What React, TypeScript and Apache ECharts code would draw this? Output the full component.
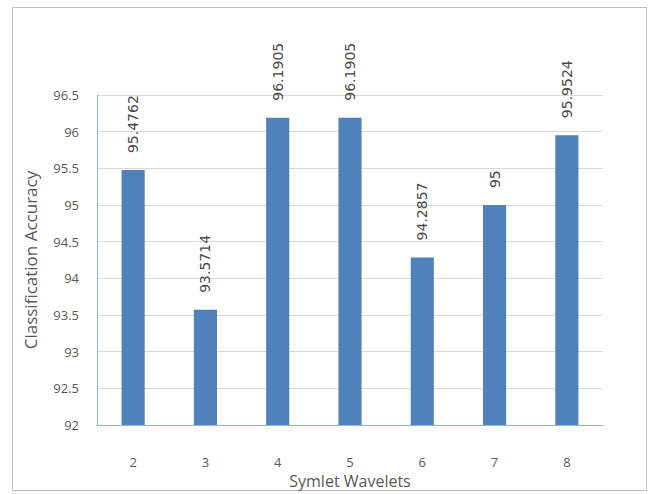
import React, { useEffect, useRef } from "react";
import * as echarts from "echarts";

const categories = ["2", "3", "4", "5", "6", "7", "8"];
const accuracy = [95.4762, 93.5714, 96.1905, 96.1905, 94.2857, 95, 95.9524];
const yMin = 92;
const yMax = 96.5;
const yStep = 0.5;

export default function App() {
  const ref = useRef<HTMLDivElement>(null);

  useEffect(() => {
    if (!ref.current) return;
    const chart = echarts.init(ref.current, undefined, { renderer: "svg" });
    const axisFont = "'Open Sans', sans-serif";
    chart.setOption({
      animation: false,
      backgroundColor: "#ffffff",
      graphic: [
        {
          type: "rect",
          shape: { x: 12.5, y: 7.5, width: 634, height: 483 },
          style: { fill: "none", stroke: "#BFBFBF", lineWidth: 1 },
          silent: true,
        },
      ],
      grid: { left: 97, right: 48, top: 95, bottom: 68 },
      xAxis: {
        type: "category",
        data: categories,
        name: "Symlet Wavelets",
        nameLocation: "middle",
        nameGap: 40,
        nameTextStyle: { fontFamily: axisFont, fontSize: 16, color: "#595959" },
        axisLine: { lineStyle: { color: "#8EB4E3", width: 1 } },
        axisTick: { show: false },
        axisLabel: { fontFamily: axisFont, fontSize: 13, color: "#595959", margin: 30 },
      },
      yAxis: {
        type: "value",
        min: yMin,
        max: yMax,
        interval: yStep,
        name: "Classification Accuracy",
        nameLocation: "middle",
        nameGap: 58,
        nameTextStyle: { fontFamily: axisFont, fontSize: 17, color: "#595959" },
        axisLine: { show: true, lineStyle: { color: "#8EB4E3", width: 1 } },
        axisTick: { show: false },
        splitLine: { lineStyle: { color: "#D9D9D9", width: 1 } },
        axisLabel: {
          fontFamily: axisFont,
          fontSize: 13,
          color: "#595959",
          margin: 18,
          formatter: (v: number) => String(v),
        },
      },
      series: [
        {
          type: "bar",
          data: accuracy,
          barWidth: "32%",
          itemStyle: { color: "#4F81BD" },
          label: {
            show: true,
            position: "top",
            rotate: 90,
            align: "left",
            verticalAlign: "middle",
            distance: 17,
            fontFamily: "'DejaVu Sans', sans-serif",
            fontSize: 14,
            color: "#4A4A4A",
            formatter: (p: any) => String(p.value),
          },
        },
      ],
    });
    return () => chart.dispose();
  }, []);

  return (
    <div
      ref={ref}
      style={{ position: "fixed", left: 0, top: 0, width: 651, height: 494 }}
    />
  );
}
